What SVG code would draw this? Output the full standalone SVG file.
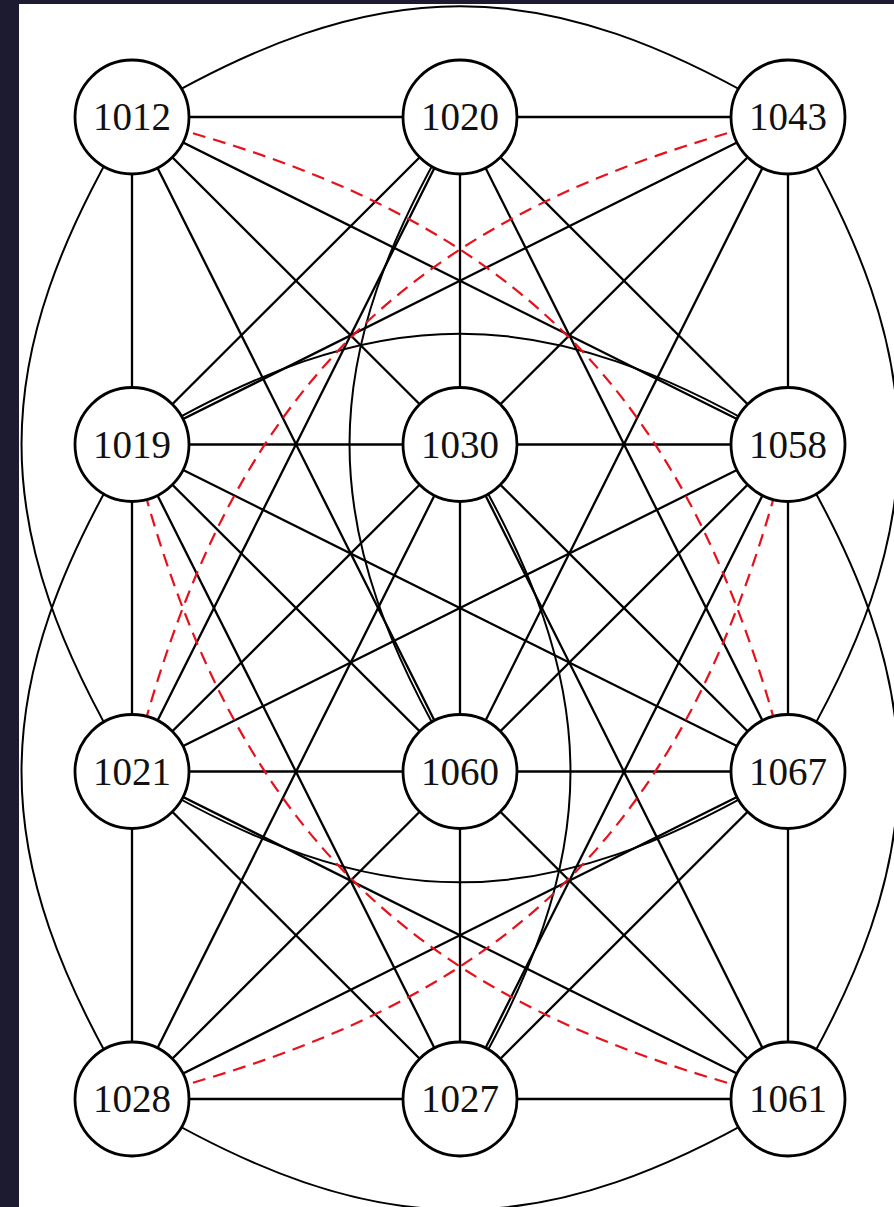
<svg xmlns="http://www.w3.org/2000/svg" width="894" height="1207" viewBox="0 0 894 1207">
<style>
.e{stroke:#000;stroke-width:2.3;fill:none}
.a{stroke:#000;stroke-width:2;fill:none}
.r{stroke:#e8101a;stroke-width:2.2;fill:none;stroke-dasharray:13 8}
.n circle{fill:#fff;stroke:#000;stroke-width:2.8}
.n text{font-family:"Liberation Serif","DejaVu Serif",serif;font-size:39px;fill:#111;text-anchor:middle}
</style>
<rect x="0" y="0" width="894" height="1207" fill="#1c1b30"/>
<rect x="19" y="4" width="875" height="1203" fill="#fff"/>
<g id="connectors">
<line class="e" x1="132" y1="117" x2="460" y2="117"/>
<line class="e" x1="460" y1="117" x2="788" y2="117"/>
<line class="e" x1="132" y1="444.5" x2="460" y2="444.5"/>
<line class="e" x1="460" y1="444.5" x2="788" y2="444.5"/>
<line class="e" x1="132" y1="771.5" x2="460" y2="771.5"/>
<line class="e" x1="460" y1="771.5" x2="788" y2="771.5"/>
<line class="e" x1="132" y1="1099" x2="460" y2="1099"/>
<line class="e" x1="460" y1="1099" x2="788" y2="1099"/>
<line class="e" x1="132" y1="117" x2="132" y2="444.5"/>
<line class="e" x1="132" y1="444.5" x2="132" y2="771.5"/>
<line class="e" x1="132" y1="771.5" x2="132" y2="1099"/>
<line class="e" x1="460" y1="117" x2="460" y2="444.5"/>
<line class="e" x1="460" y1="444.5" x2="460" y2="771.5"/>
<line class="e" x1="460" y1="771.5" x2="460" y2="1099"/>
<line class="e" x1="788" y1="117" x2="788" y2="444.5"/>
<line class="e" x1="788" y1="444.5" x2="788" y2="771.5"/>
<line class="e" x1="788" y1="771.5" x2="788" y2="1099"/>
<line class="e" x1="132" y1="117" x2="788" y2="444.5"/>
<line class="e" x1="132" y1="117" x2="460" y2="444.5"/>
<line class="e" x1="132" y1="117" x2="460" y2="771.5"/>
<line class="e" x1="460" y1="117" x2="132" y2="444.5"/>
<line class="e" x1="460" y1="117" x2="132" y2="771.5"/>
<line class="e" x1="460" y1="117" x2="788" y2="771.5"/>
<line class="e" x1="460" y1="117" x2="788" y2="444.5"/>
<line class="e" x1="788" y1="117" x2="132" y2="444.5"/>
<line class="e" x1="788" y1="117" x2="460" y2="444.5"/>
<line class="e" x1="788" y1="117" x2="460" y2="771.5"/>
<line class="e" x1="132" y1="444.5" x2="788" y2="771.5"/>
<line class="e" x1="132" y1="444.5" x2="460" y2="771.5"/>
<line class="e" x1="132" y1="444.5" x2="460" y2="1099"/>
<line class="e" x1="460" y1="444.5" x2="132" y2="771.5"/>
<line class="e" x1="460" y1="444.5" x2="132" y2="1099"/>
<line class="e" x1="460" y1="444.5" x2="788" y2="1099"/>
<line class="e" x1="460" y1="444.5" x2="788" y2="771.5"/>
<line class="e" x1="788" y1="444.5" x2="132" y2="771.5"/>
<line class="e" x1="788" y1="444.5" x2="460" y2="771.5"/>
<line class="e" x1="788" y1="444.5" x2="460" y2="1099"/>
<line class="e" x1="132" y1="771.5" x2="788" y2="1099"/>
<line class="e" x1="132" y1="771.5" x2="460" y2="1099"/>
<line class="e" x1="460" y1="771.5" x2="132" y2="1099"/>
<line class="e" x1="460" y1="771.5" x2="788" y2="1099"/>
<line class="e" x1="788" y1="771.5" x2="132" y2="1099"/>
<line class="e" x1="788" y1="771.5" x2="460" y2="1099"/>
<path class="a" d="M132,117 C378,-30.8 542,-30.8 788,117"/>
<path class="a" d="M132,444.5 C378,296.7 542,296.7 788,444.5"/>
<path class="a" d="M132,771.5 C378,919.3 542,919.3 788,771.5"/>
<path class="a" d="M132,1099 C378,1246.8 542,1246.8 788,1099"/>
<path class="a" d="M132,117 C-15.3,362.2 -15.3,526.3 132,771.5"/>
<path class="a" d="M132,444.5 C-15.3,689.7 -15.3,853.8 132,1099"/>
<path class="a" d="M788,117 C935.3,362.2 935.3,526.3 788,771.5"/>
<path class="a" d="M788,444.5 C935.3,689.7 935.3,853.8 788,1099"/>
<path class="a" d="M460,117 C312.7,362.2 312.7,526.3 460,771.5"/>
<path class="a" d="M460,444.5 C607.3,689.7 607.3,853.8 460,1099"/>
<path class="r" d="M132,117 C515.4,212.1 692,388.3 788,771.5"/>
<path class="r" d="M788,117 C404.6,212.1 228,388.3 132,771.5"/>
<path class="r" d="M132,1099 C515.4,1003.9 692,827.7 788,444.5"/>
<path class="r" d="M788,1099 C404.6,1003.9 228,827.7 132,444.5"/>
</g>
<g id="n1012" class="n"><circle cx="132" cy="117" r="57"/><text x="132" y="130.2">1012</text></g>
<g id="n1020" class="n"><circle cx="460" cy="117" r="57"/><text x="460" y="130.2">1020</text></g>
<g id="n1043" class="n"><circle cx="788" cy="117" r="57"/><text x="788" y="130.2">1043</text></g>
<g id="n1019" class="n"><circle cx="132" cy="444.5" r="57"/><text x="132" y="457.7">1019</text></g>
<g id="n1030" class="n"><circle cx="460" cy="444.5" r="57"/><text x="460" y="457.7">1030</text></g>
<g id="n1058" class="n"><circle cx="788" cy="444.5" r="57"/><text x="788" y="457.7">1058</text></g>
<g id="n1021" class="n"><circle cx="132" cy="771.5" r="57"/><text x="132" y="784.7">1021</text></g>
<g id="n1060" class="n"><circle cx="460" cy="771.5" r="57"/><text x="460" y="784.7">1060</text></g>
<g id="n1067" class="n"><circle cx="788" cy="771.5" r="57"/><text x="788" y="784.7">1067</text></g>
<g id="n1028" class="n"><circle cx="132" cy="1099" r="57"/><text x="132" y="1112.2">1028</text></g>
<g id="n1027" class="n"><circle cx="460" cy="1099" r="57"/><text x="460" y="1112.2">1027</text></g>
<g id="n1061" class="n"><circle cx="788" cy="1099" r="57"/><text x="788" y="1112.2">1061</text></g>
</svg>
